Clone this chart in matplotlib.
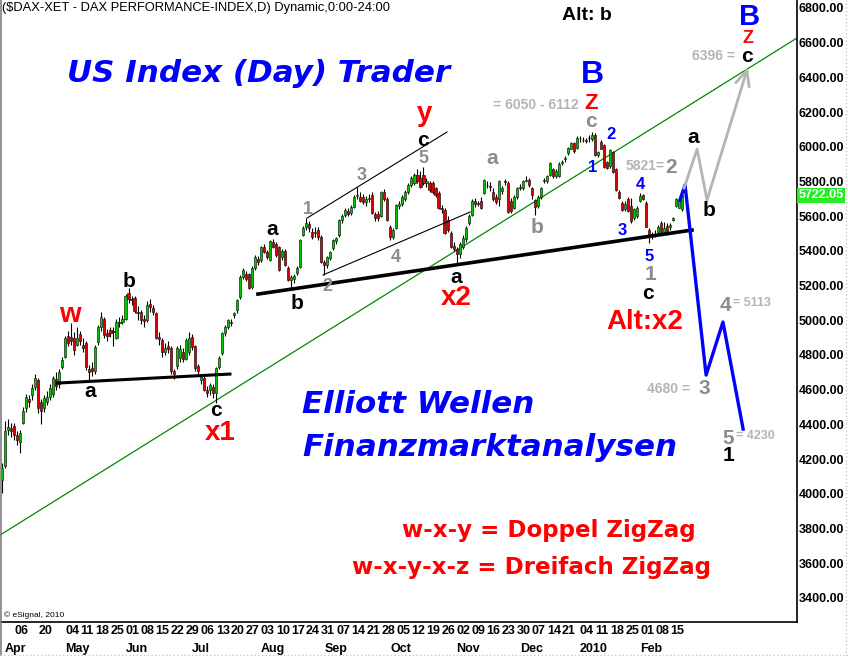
import numpy as np
import pandas as pd
import matplotlib.pyplot as plt
import matplotlib.transforms as mtransforms
from matplotlib.lines import Line2D

plt.rcParams['font.family'] = ['Liberation Sans', 'DejaVu Sans']

# trading days shown (Xetra holidays removed)
holidays = ['2009-04-10', '2009-04-13', '2009-05-01', '2009-12-24',
            '2009-12-25', '2009-12-31', '2010-01-01']
dates = pd.bdate_range('2009-03-31', '2010-02-19')
dates = dates[~dates.isin(pd.to_datetime(holidays))]

# daily OHLC
opens = [4080, 4160, 4370, 4380, 4390, 4340, 4300, 4410, 4495, 4545, 4570, 4615, 4655, 4530, 4495, 4530, 4555,
         4575, 4660, 4630, 4730, 4790, 4910, 4905, 4900, 4860, 4920, 4860, 4870, 4720, 4725, 4705, 4875,
         4960, 5010, 4925, 4945, 4940, 4900, 4985, 4990, 5010, 5155, 5120, 5130, 5050, 5045, 5005, 5000,
         5095, 5070, 5040, 4905, 4885, 4820, 4850, 4840, 4705, 4735, 4780, 4820, 4775, 4815, 4905, 4850,
         4735, 4658, 4665, 4598, 4598, 4615, 4581, 4731, 4812, 4927, 4961, 4990, 5030, 5060, 5134, 5250,
         5267, 5267, 5190, 5301, 5355, 5347, 5422, 5393, 5347, 5450, 5440, 5422, 5365, 5400, 5301, 5232,
         5240, 5273, 5307, 5492, 5535, 5555, 5510, 5505, 5520, 5480, 5336, 5320, 5360, 5415, 5455, 5490,
         5578, 5605, 5632, 5620, 5655, 5718, 5712, 5710, 5680, 5700, 5722, 5610, 5610, 5600, 5740, 5700,
         5538, 5480, 5532, 5660, 5672, 5700, 5740, 5780, 5790, 5840, 5820, 5840, 5790, 5790, 5790, 5760,
         5734, 5650, 5636, 5580, 5503, 5430, 5410, 5380, 5420, 5470, 5560, 5607, 5690, 5675, 5690, 5734,
         5782, 5772, 5740, 5710, 5700, 5745, 5800, 5791, 5690, 5650, 5710, 5770, 5760, 5805, 5810, 5760,
         5694, 5660, 5710, 5800, 5800, 5837, 5870, 5830, 5830, 5908, 5930, 5964, 5990, 6020, 5993, 6048,
         6040, 6040, 6050, 6045, 6068, 5953, 6030, 6010, 5910, 5890, 5970, 5870, 5740, 5676, 5640, 5700,
         5660, 5590, 5600, 5690, 5720, 5676, 5520, 5500, 5500, 5510, 5560, 5510, 5545, 5540, 5580, 5660,
         5650, 5640]
highs = [4175, 4420, 4430, 4410, 4410, 4360, 4370, 4500, 4575, 4570, 4630, 4690, 4670, 4545, 4570, 4590, 4630,
         4680, 4700, 4720, 4790, 4910, 4940, 4985, 4930, 4960, 4940, 4900, 4880, 4740, 4760, 4860, 4975,
         5048, 5020, 4950, 4960, 4960, 5010, 5020, 5030, 5150, 5186, 5140, 5140, 5080, 5060, 5030, 5110,
         5120, 5090, 5050, 4930, 4900, 4870, 4880, 4850, 4720, 4850, 4860, 4840, 4895, 4935, 4920, 4860,
         4750, 4690, 4680, 4620, 4640, 4630, 4730, 4795, 4935, 4975, 5010, 5005, 5050, 5125, 5260, 5300,
         5285, 5275, 5310, 5375, 5370, 5430, 5440, 5405, 5461, 5470, 5450, 5430, 5410, 5410, 5310, 5260,
         5265, 5310, 5470, 5545, 5590, 5575, 5530, 5540, 5535, 5490, 5350, 5370, 5400, 5470, 5480, 5585,
         5610, 5645, 5645, 5665, 5720, 5768, 5740, 5730, 5715, 5730, 5740, 5625, 5630, 5745, 5755, 5710,
         5550, 5530, 5670, 5690, 5720, 5750, 5790, 5830, 5850, 5870, 5860, 5883, 5820, 5805, 5800, 5770,
         5745, 5665, 5650, 5600, 5515, 5450, 5425, 5450, 5490, 5545, 5610, 5700, 5705, 5690, 5710, 5815,
         5800, 5795, 5760, 5725, 5810, 5775, 5815, 5800, 5705, 5720, 5770, 5785, 5810, 5830, 5820, 5770,
         5700, 5720, 5770, 5820, 5840, 5910, 5880, 5870, 5910, 5925, 5945, 6000, 6030, 6030, 6060, 6060,
         6055, 6050, 6070, 6085, 6080, 5975, 6040, 6015, 5920, 5985, 5975, 5880, 5750, 5690, 5685, 5710,
         5705, 5650, 5660, 5734, 5730, 5690, 5530, 5510, 5520, 5550, 5570, 5565, 5560, 5560, 5595, 5705,
         5695, 5730]
lows = [4005, 4150, 4340, 4330, 4310, 4280, 4235, 4400, 4470, 4500, 4540, 4600, 4466, 4400, 4470, 4510, 4540,
        4560, 4600, 4610, 4720, 4780, 4850, 4860, 4800, 4850, 4860, 4820, 4715, 4656, 4680, 4690, 4860,
        4940, 4900, 4880, 4905, 4850, 4890, 4960, 4980, 5000, 5100, 5090, 5040, 5000, 4980, 4960, 4990,
        5050, 5030, 4890, 4860, 4790, 4800, 4810, 4690, 4660, 4720, 4760, 4760, 4770, 4800, 4830, 4710,
        4690, 4630, 4590, 4560, 4570, 4550, 4523, 4720, 4800, 4910, 4950, 4965, 5015, 5040, 5125, 5240,
        5225, 5180, 5180, 5290, 5320, 5335, 5385, 5355, 5340, 5415, 5365, 5285, 5350, 5310, 5225, 5180,
        5215, 5260, 5300, 5485, 5520, 5510, 5470, 5480, 5460, 5330, 5261, 5300, 5345, 5405, 5440, 5480,
        5560, 5595, 5600, 5605, 5645, 5700, 5680, 5670, 5660, 5680, 5610, 5570, 5575, 5595, 5690, 5570,
        5463, 5470, 5525, 5640, 5660, 5690, 5730, 5770, 5780, 5790, 5760, 5780, 5770, 5740, 5730, 5710,
        5640, 5620, 5495, 5510, 5415, 5400, 5330, 5360, 5410, 5450, 5550, 5600, 5655, 5660, 5640, 5725,
        5760, 5745, 5690, 5670, 5660, 5730, 5780, 5620, 5620, 5640, 5700, 5750, 5750, 5795, 5770, 5700,
        5607, 5650, 5700, 5790, 5790, 5830, 5820, 5820, 5825, 5895, 5915, 5955, 5985, 5965, 5985, 6030,
        6025, 6020, 6030, 6035, 5945, 5940, 5985, 5875, 5870, 5880, 5850, 5745, 5700, 5630, 5630, 5625,
        5561, 5580, 5590, 5680, 5695, 5535, 5445, 5470, 5480, 5495, 5500, 5500, 5490, 5520, 5570, 5655,
        5645, 5630]
closes = [4150, 4360, 4385, 4360, 4340, 4310, 4350, 4480, 4555, 4530, 4610, 4670, 4495, 4480, 4550, 4560, 4610,
          4665, 4620, 4700, 4770, 4900, 4870, 4880, 4830, 4900, 4880, 4840, 4730, 4700, 4705, 4845, 4960,
          5020, 4915, 4910, 4925, 4930, 4990, 4990, 5010, 5140, 5125, 5115, 5055, 5040, 5000, 4995, 5090,
          5075, 5050, 4900, 4890, 4815, 4840, 4835, 4705, 4690, 4840, 4835, 4775, 4885, 4895, 4845, 4725,
          4710, 4672, 4600, 4582, 4625, 4580, 4725, 4783, 4927, 4961, 5000, 4984, 5040, 5115, 5250, 5290,
          5238, 5186, 5300, 5365, 5336, 5422, 5393, 5365, 5455, 5422, 5375, 5290, 5400, 5318, 5232, 5250,
          5255, 5301, 5463, 5532, 5560, 5530, 5480, 5510, 5480, 5336, 5318, 5365, 5395, 5460, 5475, 5578,
          5600, 5636, 5610, 5655, 5710, 5722, 5690, 5680, 5700, 5705, 5618, 5592, 5590, 5740, 5700, 5580,
          5480, 5520, 5665, 5672, 5710, 5740, 5780, 5820, 5840, 5800, 5770, 5790, 5800, 5750, 5740, 5720,
          5647, 5640, 5503, 5520, 5423, 5410, 5380, 5440, 5475, 5530, 5600, 5690, 5670, 5672, 5650, 5809,
          5780, 5768, 5700, 5680, 5800, 5760, 5798, 5624, 5628, 5710, 5760, 5762, 5800, 5810, 5780, 5720,
          5653, 5710, 5760, 5808, 5830, 5906, 5830, 5860, 5900, 5912, 5935, 5993, 6020, 5975, 6050, 6050,
          6039, 6035, 6050, 6068, 5953, 5970, 5990, 5883, 5880, 5980, 5855, 5750, 5705, 5636, 5670, 5630,
          5570, 5640, 5650, 5715, 5700, 5538, 5480, 5490, 5500, 5540, 5510, 5530, 5510, 5550, 5590, 5700,
          5690, 5722.05]

last_close = 5722.05

# drawn trend / channel lines (bar index, price)
trend_green = ([-0.7, 264.1], [3762, 6627])
support_1 = ([18.3, 75.7], [4638, 4690])
support_2 = ([85.0, 229.2], [5151, 5520])
channel_top = ([101.3, 147.8], [5589, 6085])
channel_bot = ([106.6, 155.5], [5261, 5624])

# projected wave paths
blue_x = [225.2, 226.9, 233.9, 239.5, 246.2]
blue_p = [5693, 5780, 4684, 4990, 4373]
gray_x = [226.6, 230.9, 234.2, 247.8]
gray_p = [5762, 5987, 5693, 6460]

x = np.arange(len(closes))
o = np.array(opens, float)
h = np.array(highs, float)
l = np.array(lows, float)
c = np.array(closes, float)

fig = plt.figure(figsize=(8.48, 6.56), dpi=100)
ax = fig.add_axes([0.0, 34 / 656, 797 / 848, 622 / 656])

ax.plot(*trend_green, color='#008800', lw=0.9, zorder=1)

# candles
ax.vlines(x, l, h, color='black', lw=0.8, zorder=2)
up = c > o
down = c < o
flat = c == o
ax.bar(x[up], (c - o)[up], bottom=o[up], width=0.7, color='#00c800',
       edgecolor='#103010', linewidth=0.5, zorder=3)
ax.bar(x[down], (o - c)[down], bottom=c[down], width=0.7, color='#dd0000',
       edgecolor='#301010', linewidth=0.5, zorder=3)
ax.hlines(c[flat], x[flat] - 0.35, x[flat] + 0.35, color='black', lw=1, zorder=3)

ax.plot(*support_1, color='black', lw=2.2, zorder=4)
ax.plot(*support_2, color='black', lw=2.6, zorder=4)
ax.plot(*channel_top, color='black', lw=0.8, zorder=4)
ax.plot(*channel_bot, color='black', lw=0.8, zorder=4)

ax.plot(blue_x, blue_p, color='#0000ff', lw=2.4, zorder=5)
ax.plot(gray_x[:-1], gray_p[:-1], color='#b4b4b4', lw=2, zorder=5)
ax.annotate('', xy=(gray_x[-1], gray_p[-1]), xytext=(gray_x[-2], gray_p[-2]),
            arrowprops=dict(arrowstyle='->,head_length=1.1,head_width=0.5',
                            color='#b4b4b4', lw=2, shrinkA=0, shrinkB=0), zorder=5)

# axis setup
ax.set_xlim(-0.7, 264.1)
ax.set_ylim(3261, 6846)
ax.yaxis.tick_right()
ax.set_yticks(np.arange(3400, 6801, 200))
ax.set_yticklabels([f'{v:.2f}' for v in np.arange(3400, 6801, 200)])
ax.tick_params(axis='y', length=0, pad=1, labelsize=9)
for lab in ax.get_yticklabels():
    lab.set_fontweight('bold')

mondays = [i for i, d in enumerate(dates) if d.weekday() == 0
           and d.strftime('%Y-%m-%d') not in ('2009-04-27', '2009-12-28')]
month_first = [i for i in range(1, len(dates)) if i == 1 or dates[i].month != dates[i - 1].month]
month_names = ['2010' if dates[i].month == 1 else dates[i].strftime('%b') for i in month_first]

ax.xaxis.remove_overlapping_locs = False
ax.set_xticks(mondays, [dates[i].strftime('%d') for i in mondays])
ax.set_xticks(month_first, month_names, minor=True)
ax.tick_params(axis='x', which='both', length=0, labelsize=9)
ax.tick_params(axis='x', which='major', pad=2)
ax.tick_params(axis='x', which='minor', pad=15)
for lab in ax.get_xticklabels() + ax.get_xticklabels(minor=True):
    lab.set_fontweight('bold')
    lab.set_horizontalalignment('left')

for side in ['top', 'left']:
    ax.spines[side].set_visible(False)
for side in ['right', 'bottom']:
    ax.spines[side].set_linewidth(1.2)
    ax.spines[side].set_color('black')

# last price tag
trans = mtransforms.blended_transform_factory(ax.transAxes, ax.transData)
ax.text(1.002, last_close, f'{last_close:.2f}', transform=trans, ha='left', va='center',
        color='white', fontsize=9, fontweight='bold',
        bbox=dict(boxstyle='square,pad=0.12', facecolor='#22ee22', edgecolor='none'))


def lbl(i, p, s, color='black', size=15, ha='center'):
    ax.text(i, p, s, color=color, fontsize=size, fontweight='bold', ha=ha, va='center', zorder=6)


red, blue, gray, lgray = '#ff0000', '#0000ff', '#8c8c8c', '#b4b4b4'

# wave labels
lbl(22.6, 5030, 'w', red, 20)
lbl(29.2, 4592, 'a')
lbl(42.2, 5221, 'b')
lbl(71.1, 4480, 'c')
lbl(72.4, 4350, 'x1', red, 20)
lbl(89.7, 5526, 'a')
lbl(98.0, 5099, 'b')
lbl(101.7, 5636, '1', gray, 13)
lbl(108.0, 5192, '2', gray, 13)
lbl(119.6, 5832, '3', gray, 13)
lbl(130.9, 5359, '4', gray, 13)
lbl(139.9, 5935, '5', gray, 13)
lbl(139.9, 6039, 'c')
lbl(140.2, 6190, 'y', red, 20)
lbl(150.8, 5249, 'a')
lbl(150.8, 5128, 'x2', red, 20)
lbl(162.8, 5930, 'a', gray)
lbl(177.7, 5532, 'b', gray)
lbl(191.4, 6241, '= 6050 - 6112', lgray, 10, ha='right')
lbl(195.7, 6247, 'Z', red, 16)
lbl(196.3, 6414, 'B', blue, 23)
lbl(195.7, 6143, 'c', gray)
lbl(196.3, 5883, '1', blue, 12)
lbl(202.3, 6068, '2', blue, 12)
lbl(206.0, 5520, '3', blue, 12)
lbl(212.0, 5785, '4', blue, 12)
lbl(215.0, 5370, '5', blue, 12)
lbl(215.3, 5261, '1', gray, 15)
lbl(214.6, 5157, 'c')
lbl(213.5, 4990, 'Alt:x2', red, 20)
lbl(220.3, 5889, '5821=', lgray, 10, ha='right')
lbl(222.3, 5883, '2', gray, 15)
lbl(229.6, 6051, 'a')
lbl(234.9, 5630, 'b')
lbl(194.4, 6754, 'Alt: b', 'black', 14)
lbl(248.2, 6750, 'B', blue, 21)
lbl(247.8, 6625, 'Z', red, 13)
lbl(247.5, 6522, 'c')
lbl(243.5, 6522, '6396 =', lgray, 10, ha='right')
lbl(240.2, 5088, '4', gray, 15)
lbl(243.0, 5100, '= 5113', lgray, 9, ha='left')
lbl(228.6, 4604, '4680 =', lgray, 10, ha='right')
lbl(233.2, 4604, '3', gray, 15)
lbl(241.2, 4321, '5', gray, 15)
lbl(243.7, 4335, '= 4230', lgray, 9, ha='left')
lbl(241.5, 4218, '1', 'black', 15)

# headline texts
head = dict(color=blue, fontsize=22.3, fontweight='bold', fontstyle='italic',
            family='DejaVu Sans', ha='left', va='center')
ax.text(21.6, 6425, 'US Index (Day) Trader', **head)
ax.text(99.7, 4517, 'Elliott Wellen', **head)
ax.text(99.7, 4264, 'Finanzmarktanalysen', **head)
rule = dict(color=red, fontsize=16.6, fontweight='bold', family='DejaVu Sans', ha='left', va='center')
ax.text(132.9, 3791, 'w-x-y = Doppel ZigZag', **rule)
ax.text(116.3, 3578, 'w-x-y-x-z = Dreifach ZigZag', **rule)

fig.text(0.002, 1 - 2 / 656, '($DAX-XET - DAX PERFORMANCE-INDEX,D) Dynamic,0:00-24:00',
         fontsize=9.3, ha='left', va='top')
fig.text(4 / 848, 1 - 615 / 656, '\u00a9 eSignal, 2010', fontsize=6, ha='left', va='center')

fig.add_artist(Line2D([0.6 / 848, 0.6 / 848], [0, 1], color='#808080', lw=1.2))
fig.add_artist(Line2D([0, 1], [1.5 / 656, 1.5 / 656], color='#c8c8c8', lw=1, ls=':'))
fig.add_artist(Line2D([846 / 848, 846 / 848], [0, 1], color='#c8c8c8', lw=1, ls=':'))

fig.savefig('out.png', dpi=100)
